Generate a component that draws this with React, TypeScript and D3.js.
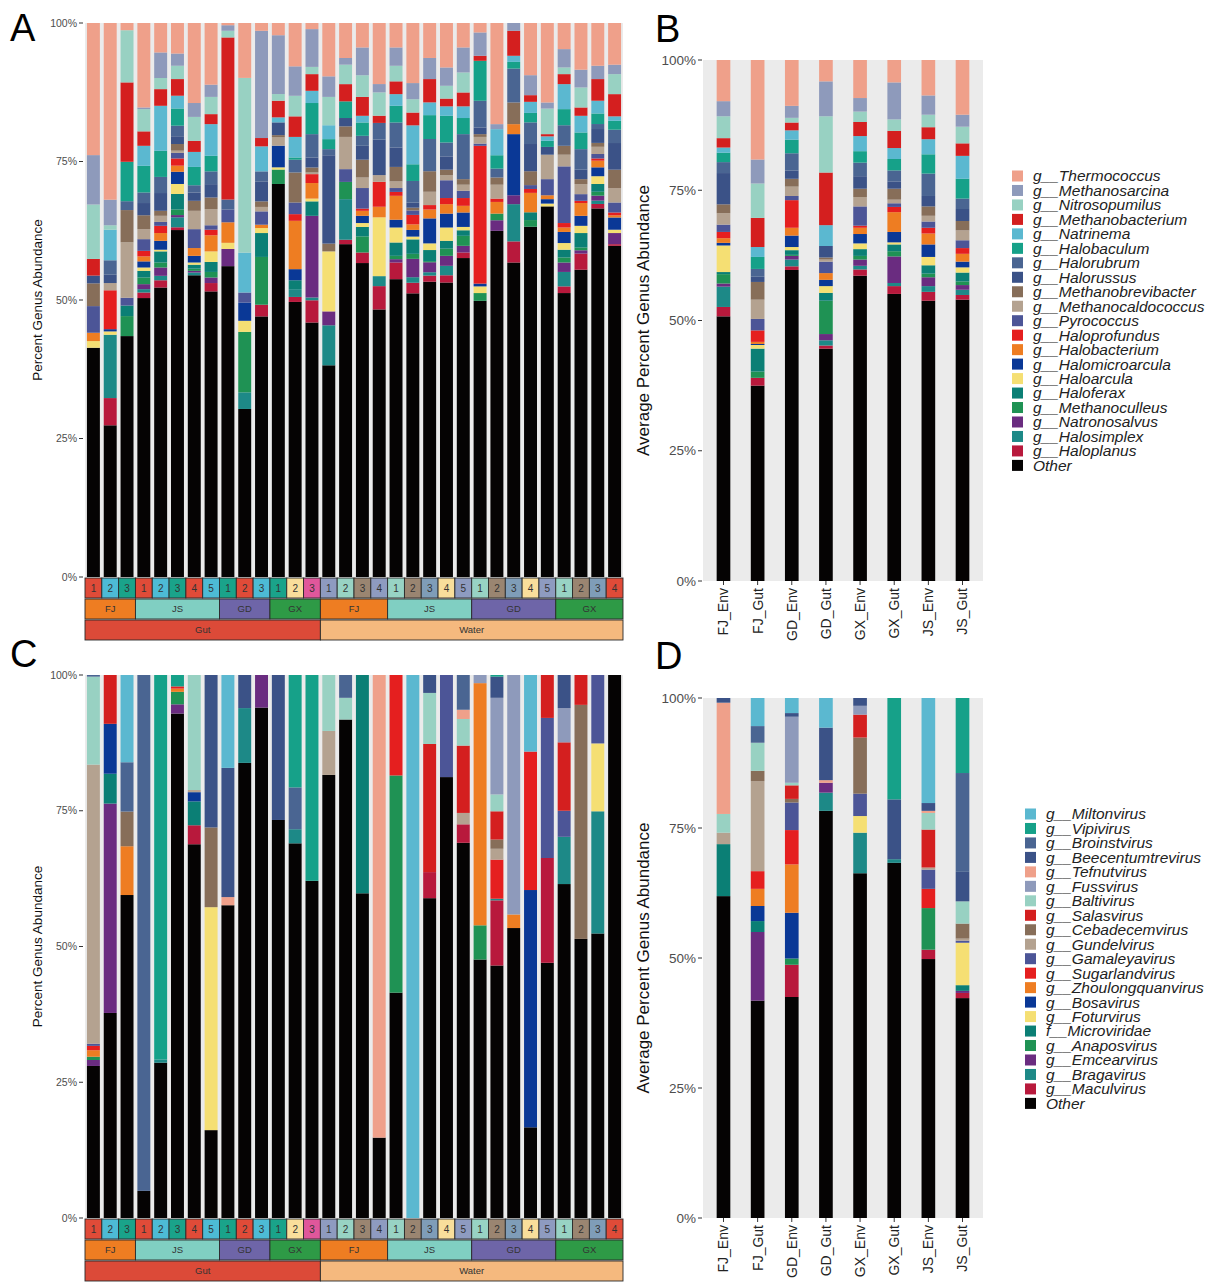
import * as d3 from 'd3';

const FONT = '"Liberation Sans", Arial, Helvetica, sans-serif';

// ---------- genera and colours ----------
const archaeaGenera = [
  'g__Thermococcus', 'g__Methanosarcina', 'g__Nitrosopumilus', 'g__Methanobacterium', 'g__Natrinema',
  'g__Halobaculum', 'g__Halorubrum', 'g__Halorussus', 'g__Methanobrevibacter', 'g__Methanocaldococcus',
  'g__Pyrococcus', 'g__Haloprofundus', 'g__Halobacterium', 'g__Halomicroarcula', 'g__Haloarcula',
  'g__Haloferax', 'g__Methanoculleus', 'g__Natronosalvus', 'g__Halosimplex', 'g__Haloplanus', 'Other',
];
const virusGenera = [
  'g__Miltonvirus', 'g__Vipivirus', 'g__Broinstvirus', 'g__Beecentumtrevirus', 'g__Tefnutvirus',
  'g__Fussvirus', 'g__Baltivirus', 'g__Salasvirus', 'g__Cebadecemvirus', 'g__Gundelvirus',
  'g__Gamaleyavirus', 'g__Sugarlandvirus', 'g__Zhoulongquanvirus', 'g__Bosavirus', 'g__Foturvirus',
  'f__Microviridae', 'g__Anaposvirus', 'g__Emcearvirus', 'g__Bragavirus', 'g__Maculvirus', 'Other',
];
const archaeaColors = [
  '#EFA08A', '#8E9ABB', '#98D1C2', '#D41F1F', '#5BB8D0', '#16A189', '#4A6592', '#3B5287', '#876E59',
  '#B4A290', '#4C5597', '#E51F1F', '#EE7D22', '#0A3896', '#F5DF73', '#0B7F75', '#1F9254', '#6A2C80',
  '#1D8987', '#B8193C', '#050303',
];
const virusColors = [
  '#5BB8D0', '#16A189', '#4A6592', '#3B5287', '#EFA08A', '#8E9ABB', '#98D1C2', '#D41F1F', '#876E59',
  '#B4A290', '#4C5597', '#E51F1F', '#EE7D22', '#0A3896', '#F5DF73', '#0B7F75', '#1F9254', '#6A2C80',
  '#1D8987', '#B8193C', '#050303',
];

// ---------- sample layout ----------
const sites = ['FJ', 'JS', 'GD', 'GX'];
const gutCounts = [3, 5, 3, 3];
const waterCounts = [4, 5, 5, 4];
const habitats = ['Gut', 'Water'];
const siteColors = ['#EE7D22', '#80CFC2', '#6E65A8', '#2E9A46'];
const habitatColors = ['#DC4A38', '#F5B97E'];
const sampleColors = [
  '#E04B38', '#4DBBD5', '#1AA38A',
  '#E04B38', '#4DBBD5', '#1AA38A', '#E04B38', '#4DBBD5',
  '#1AA38A', '#E04B38', '#4DBBD5',
  '#1AA38A', '#F9DE9B', '#E0579B',
  '#8E9BC0', '#98D3C4', '#9A8571', '#8E9BC0',
  '#98D3C4', '#9A8571', '#7F9DB8', '#F9DE9B', '#8E9BC0',
  '#98D3C4', '#9A8571', '#7F9DB8', '#F9DE9B', '#8E9BC0',
  '#98D3C4', '#9A8571', '#7F9DB8', '#E04B38',
];

// ---------- panel A: archaea per sample (legend order, % ) ----------
const archaeaGut = [
  [23.8, 8.9, 9.8, 3.0, 0, 0, 0, 1.4, 4.1, 0, 4.8, 0, 1.5, 0, 1.2, 0, 0, 0, 0, 0, 41.3],
  [31.8, 4.6, 0.8, 0, 5.5, 0, 2.6, 1.5, 0, 1.3, 0, 7.0, 0, 0.4, 0.6, 0, 0, 0, 11.4, 4.9, 27.3],
  [1.3, 0, 9.4, 14.3, 0, 7.1, 1.6, 0, 5.8, 10.0, 1.4, 0, 0, 0, 0, 1.9, 3.6, 0, 0, 0, 43.4],
  [15.2, 0.3, 4.0, 2.6, 3.6, 4.8, 1.9, 2.2, 2.5, 1.8, 2.1, 1.0, 0.9, 1.1, 0.6, 1.2, 1.2, 0.9, 0.6, 1.0, 50.2],
  [5.3, 4.6, 2.0, 3.0, 8.1, 4.7, 2.9, 3.2, 0.9, 1.1, 0.7, 1.3, 1.4, 1.6, 0.3, 2.0, 0.9, 1.5, 0.8, 1.3, 52.1],
  [5.5, 2.2, 2.4, 3.0, 2.3, 3.1, 1.9, 1.4, 1.2, 0.4, 1.0, 1.3, 1.1, 2.2, 1.8, 2.8, 1.0, 0.4, 1.8, 0.5, 62.5],
  [14.4, 2.5, 4.3, 2.0, 2.7, 3.3, 1.3, 1.5, 1.8, 3.3, 3.4, 0, 1.4, 1.2, 0.4, 0.7, 0.4, 0.3, 0.5, 0, 54.3],
  [11.1, 2.2, 3.1, 1.8, 5.7, 2.8, 2.3, 2.4, 2.1, 2.9, 0.8, 1.0, 2.9, 0, 1.9, 1.8, 1.0, 1.0, 0, 1.5, 51.4],
  [0.4, 1.0, 1.2, 29.2, 0, 0, 1.8, 0, 0, 0, 2.3, 0, 3.7, 0, 1.1, 0, 0, 3.1, 0, 0, 56.0],
  [9.9, 0, 31.5, 0, 7.2, 0, 0, 0, 0, 0, 1.8, 0, 0, 3.3, 2.0, 0, 10.9, 0, 3.0, 0, 30.3],
  [1.4, 19.3, 0, 1.5, 4.5, 0, 1.8, 3.6, 1.0, 0.8, 2.4, 0, 0.6, 0, 0.9, 4.3, 8.6, 0, 0, 2.1, 46.9],
  [2.2, 10.6, 1.2, 3.0, 0.9, 0, 0, 2.3, 0.4, 1.5, 0, 0, 0, 3.9, 0.4, 0, 2.6, 0, 0, 0, 70.8],
  [7.8, 5.3, 3.7, 3.7, 3.7, 0.4, 2.3, 0, 5.4, 0, 2.1, 1.2, 8.7, 2.0, 0, 1.6, 0, 0, 1.4, 0.9, 49.5],
  [1.1, 6.8, 1.3, 3.0, 2.2, 5.6, 4.2, 1.8, 0.9, 0.3, 0, 1.6, 2.8, 0, 0.5, 2.6, 0, 14.7, 0.5, 4.0, 45.8],
];
const archaeaWater = [
  [9.6, 3.7, 5.1, 0, 2.5, 1.8, 1.1, 15.9, 1.4, 0, 0, 0, 0, 0, 10.8, 0, 0, 2.5, 7.2, 0, 38.1],
  [6.3, 1.2, 3.5, 3.1, 0, 3.0, 0, 1.5, 1.9, 5.8, 2.3, 0, 0, 0, 0, 0, 3.1, 0, 7.3, 0.8, 59.9],
  [4.4, 5.0, 3.9, 3.4, 1.2, 2.4, 1.8, 2.5, 3.2, 1.9, 3.7, 0.4, 0.9, 1.3, 0.7, 1.7, 2.9, 0, 0, 1.9, 56.5],
  [11.0, 1.5, 4.2, 1.3, 0, 0, 3.0, 6.4, 0, 1.2, 0, 4.5, 1.9, 0, 10.6, 0, 0, 0, 1.8, 4.2, 48.2],
  [4.4, 3.3, 2.8, 2.3, 2.1, 3.0, 4.5, 3.5, 2.6, 1.2, 0.7, 0.7, 4.3, 1.4, 2.7, 2.4, 0.6, 0.6, 0, 3.0, 53.6],
  [10.8, 2.9, 2.4, 2.3, 7.0, 3.0, 3.9, 0.9, 0.5, 0, 0.8, 1.7, 1.0, 1.2, 0.5, 2.6, 0.9, 3.3, 1.0, 1.9, 51.0],
  [6.3, 3.8, 0, 4.2, 2.3, 4.3, 5.8, 0, 3.7, 2.4, 0, 0.8, 1.6, 4.5, 1.2, 2.0, 0.2, 1.8, 0.6, 1.1, 53.2],
  [8.0, 3.3, 2.3, 1.4, 1.7, 4.8, 2.5, 2.4, 1.0, 0.9, 3.2, 1.1, 1.7, 2.5, 2.4, 1.4, 1.3, 1.8, 1.7, 1.3, 53.0],
  [4.4, 4.5, 3.6, 2.5, 2.1, 2.9, 8.1, 0, 1.0, 1.1, 1.3, 1.4, 1.2, 2.6, 0.6, 1.0, 1.8, 1.2, 0, 1.0, 57.4],
  [1.7, 4.2, 0, 0.9, 0, 7.2, 4.8, 1.2, 0.5, 1.2, 0.4, 24.8, 0, 0.5, 1.2, 0, 1.4, 0, 0, 0, 49.7],
  [18.2, 0.9, 0, 0, 4.7, 2.4, 1.6, 0, 1.3, 2.5, 0, 0.6, 2.1, 0, 0, 0, 1.2, 1.9, 0, 0, 62.3],
  [0, 1.4, 0, 4.5, 1.1, 1.2, 6.1, 0, 3.9, 0, 0, 0, 1.8, 11.0, 0, 0, 0, 1.6, 6.7, 3.8, 56.6],
  [9.4, 3.6, 0, 1.2, 2.0, 1.7, 3.9, 4.9, 2.5, 0, 0.7, 0.7, 3.5, 0, 0, 1.4, 1.2, 0, 0, 0, 63.1],
  [14.3, 1.1, 4.6, 0.4, 0.8, 1.1, 0, 1.4, 0, 4.4, 2.9, 0, 0.7, 0.8, 0.5, 0, 0, 0, 0, 0, 66.7],
  [4.7, 3.3, 1.2, 1.8, 4.5, 2.9, 3.7, 0, 1.6, 2.1, 10.2, 0.8, 0.8, 2.0, 1.2, 1.4, 0.9, 1.7, 2.6, 1.2, 51.1],
  [8.4, 3.2, 3.6, 1.5, 3.0, 3.0, 3.7, 1.7, 0.9, 1.8, 1.2, 0.4, 2.3, 1.8, 1.3, 2.6, 0.5, 0.6, 0, 2.9, 55.3],
  [7.7, 2.4, 0, 3.9, 2.3, 1.9, 0.9, 2.5, 0.7, 1.3, 0.8, 0.4, 1.2, 1.6, 1.4, 1.4, 0.7, 0.9, 0.6, 0.8, 66.4],
  [7.5, 1.7, 3.6, 4.0, 0.8, 1.6, 2.4, 4.8, 3.3, 2.6, 1.8, 0.5, 0.4, 2.2, 0.6, 0, 0, 2.0, 0, 0.3, 59.6],
];

// ---------- panel C: viruses per sample ----------
const virusGut = [
  [0, 0, 0.3, 0, 0, 0, 16.2, 0, 0, 51.4, 0.4, 0.8, 1.2, 0, 0, 0, 0.6, 1.1, 0, 0, 28.0],
  [0, 0, 0, 0, 0, 0, 0, 9.0, 0, 0, 0, 0, 0, 9.2, 0, 5.5, 0, 38.6, 0, 0, 37.8],
  [16.1, 0, 9.1, 0, 0, 0, 0, 0, 6.4, 0, 0, 0, 9.0, 0, 0, 0, 0, 0, 0, 0, 59.6],
  [0, 0, 95.0, 0, 0, 0, 0, 0, 0, 0, 0, 0, 0, 0, 0, 0, 0, 0, 0, 0, 5.0],
  [0, 70.8, 0, 0, 0, 0, 0, 0, 0, 0, 0, 0, 0, 0, 0, 0, 0, 0, 0.6, 0, 28.6],
  [0, 2.1, 0, 0, 0, 0, 0, 0, 0, 0, 0, 0.4, 0.6, 0, 0, 0, 2.3, 1.7, 0, 0, 92.9],
  [0, 0, 0, 0, 0, 0, 21.2, 0, 0, 0.4, 0, 0, 0, 1.7, 0, 4.4, 0, 0, 0, 3.5, 68.9],
  [0, 0, 0, 28.1, 0, 0, 0, 0, 14.7, 0, 0, 0, 0, 0, 41.1, 0, 0, 0, 0, 0, 16.2],
  [17.1, 0, 0, 23.8, 1.5, 0, 0, 0, 0, 0, 0, 0, 0, 0, 0, 0, 0, 0, 0, 0, 57.6],
  [0, 0, 0, 6.1, 0, 0, 0, 0, 0, 0, 0, 0, 0, 0, 0, 0, 0, 0, 10.1, 0, 83.9],
  [0, 0, 0, 0, 0, 0, 0, 0, 0, 0, 0, 0, 0, 0, 0, 0, 0, 6.0, 0, 0, 94.0],
  [0, 0, 0, 26.7, 0, 0, 0, 0, 0, 0, 0, 0, 0, 0, 0, 0, 0, 0, 0, 0, 73.3],
  [0, 20.7, 7.7, 0, 0, 0, 0, 0, 0, 0, 0, 0, 0, 0, 0, 0, 0, 0, 2.6, 0, 69.0],
  [0, 37.9, 0, 0, 0, 0, 0, 0, 0, 0, 0, 0, 0, 0, 0, 0, 0, 0, 0, 0, 62.1],
];
const virusWater = [
  [0, 0, 0, 0, 0, 0, 10.3, 0, 0, 8.1, 0, 0, 0, 0, 0, 0, 0, 0, 0, 0, 81.6],
  [0, 0, 4.2, 0, 0, 0, 4.0, 0, 0, 0, 0, 0, 0, 0, 0, 0, 0, 0, 0, 0, 91.8],
  [0, 0, 0, 0, 0, 0, 0, 0, 0, 0, 0, 0, 0, 0, 0, 40.2, 0, 0, 0, 0, 59.8],
  [0, 0, 0, 0, 85.2, 0, 0, 0, 0, 0, 0, 0, 0, 0, 0, 0, 0, 0, 0, 0, 14.8],
  [0, 0, 0, 0, 0, 0, 0, 0, 0, 0, 0, 18.5, 0, 0, 0, 0, 40.0, 0, 0, 0, 41.5],
  [100, 0, 0, 0, 0, 0, 0, 0, 0, 0, 0, 0, 0, 0, 0, 0, 0, 0, 0, 0, 0],
  [0, 0, 0, 3.3, 0, 0, 9.4, 23.6, 0, 0, 0, 0, 0, 0, 0, 0, 0, 0, 0, 4.8, 58.9],
  [0, 0, 0, 0, 0, 0, 0, 0, 0, 0, 18.8, 0, 0, 0, 0, 0, 0, 0, 0, 0, 81.2],
  [0, 0, 6.4, 0, 1.7, 0, 4.9, 12.4, 0, 2.1, 0, 0, 0, 0, 0, 0, 0, 0, 0, 3.4, 69.1],
  [0, 0, 0, 0, 0, 1.5, 0, 0, 0, 0, 0, 0, 44.6, 0, 0, 0, 6.3, 0, 0, 0, 47.6],
  [0, 0.3, 0, 3.9, 0, 17.8, 3.1, 5.2, 1.7, 2.0, 0, 7.2, 0, 0, 0, 0, 0, 0, 0.3, 12.0, 46.5],
  [0, 0, 0, 0, 0, 44.1, 0, 0, 0, 0, 0, 0, 2.5, 0, 0, 0, 0, 0, 0, 0, 53.4],
  [14.1, 0, 0, 0, 0, 0, 0, 0, 0, 0, 0, 25.5, 0, 43.7, 0, 0, 0, 0, 0, 0, 16.7],
  [0, 0, 0, 0, 0, 0, 0, 7.9, 0, 0, 25.8, 0, 0, 0, 0, 0, 0, 0, 0, 19.3, 47.0],
  [0, 0, 0, 6.1, 0, 6.3, 0, 12.6, 0, 0, 4.8, 0, 0, 0, 0, 0, 0, 0, 8.7, 0, 61.5],
  [0, 0, 0, 0, 0, 0, 0, 5.5, 43.1, 0, 0, 0, 0, 0, 0, 0, 0, 0, 0, 0, 51.4],
  [0, 0, 0, 0, 0, 0, 0, 0, 0, 0, 12.6, 0, 0, 0, 12.5, 0, 0, 0, 22.5, 0, 52.4],
  [0, 0, 0, 0, 0, 0, 0, 0, 0, 0, 0, 0, 0, 0, 0, 0, 0, 0, 0, 0, 100],
];

// ---------- panels B and D: group averages ----------
const groupNames = ['FJ_Env', 'FJ_Gut', 'GD_Env', 'GD_Gut', 'GX_Env', 'GX_Gut', 'JS_Env', 'JS_Gut'];
const archaeaAverage = [
  [7.9, 2.9, 4.2, 1.8, 1.0, 1.8, 2.1, 6.0, 1.7, 2.2, 1.4, 1.2, 0.9, 0.5, 5.1, 0.4, 1.8, 0.6, 3.9, 1.8, 50.8],
  [19.1, 4.6, 6.6, 5.6, 1.9, 2.3, 1.5, 1.0, 3.4, 3.7, 2.2, 2.2, 0.4, 0.2, 0.7, 4.4, 1.2, 0, 0, 1.5, 37.5],
  [8.8, 2.3, 0.9, 1.5, 1.8, 2.6, 3.3, 1.6, 1.5, 1.8, 0.8, 5.3, 1.5, 2.2, 0.6, 0.9, 0.2, 0.7, 1.3, 0.7, 59.7],
  [4.1, 6.7, 10.8, 10.1, 4.0, 0, 0, 2.2, 0.4, 0.4, 2.2, 0, 1.3, 1.2, 1.3, 1.5, 6.4, 1.2, 1.0, 0.6, 44.6],
  [7.3, 2.6, 2.0, 2.7, 2.9, 2.2, 2.6, 2.4, 1.6, 1.8, 3.7, 0.4, 1.2, 1.8, 1.1, 1.3, 0.7, 1.2, 0.7, 1.2, 58.6],
  [4.3, 7.1, 2.2, 3.3, 2.1, 2.2, 2.1, 1.4, 2.1, 0.7, 0.7, 1.0, 3.8, 2.0, 0.4, 1.3, 1.0, 5.1, 0.6, 1.5, 55.1],
  [6.8, 3.7, 2.4, 2.3, 2.9, 3.7, 4.3, 2.0, 1.8, 1.1, 1.2, 1.1, 2.1, 2.4, 1.6, 1.6, 0.7, 1.7, 1.1, 1.7, 53.8],
  [10.5, 2.3, 3.2, 2.4, 4.4, 3.8, 2.0, 2.3, 1.8, 1.9, 1.5, 1.1, 1.5, 1.1, 1.0, 1.7, 0.7, 0.9, 1.0, 0.9, 54.0],
];
const virusAverage = [
  [0, 0, 0, 0.9, 21.4, 0, 3.6, 0, 0, 2.2, 0, 0, 0, 0, 0, 10.0, 0, 0, 0, 0, 61.9],
  [5.4, 0, 3.2, 0, 0, 0, 5.4, 0, 2.0, 17.3, 0, 3.4, 3.3, 2.9, 0, 2.1, 0, 13.2, 0, 0, 41.8],
  [2.9, 0, 0, 0.7, 0, 12.7, 0.5, 2.6, 0.7, 0, 5.3, 6.6, 9.3, 8.8, 0, 0, 1.2, 0, 0, 6.2, 42.5],
  [5.7, 0, 0, 10.1, 0.5, 0, 0, 0, 0, 0, 0, 0, 0, 0, 0, 0, 0, 1.9, 3.5, 0, 78.3],
  [0, 0, 0, 1.5, 0, 1.7, 0, 4.4, 10.8, 0, 4.3, 0, 0, 0, 3.2, 0, 0, 0, 7.8, 0, 66.3],
  [0, 19.5, 0, 11.5, 0, 0, 0, 0, 0, 0, 0, 0, 0, 0, 0, 0, 0, 0, 0.7, 0, 68.3],
  [20.2, 0, 0, 1.5, 0.4, 0, 3.2, 7.3, 0, 0.4, 3.7, 3.7, 0, 0, 0, 0, 8.0, 0, 0, 1.8, 49.8],
  [0, 14.5, 19.1, 5.7, 0, 0, 4.3, 0, 2.9, 0.4, 0.4, 0, 0, 0, 8.2, 1.1, 0, 0.4, 0, 1.0, 42.5],
];

// ---------- helpers ----------
type Rec = { [k: string]: number };

function toPercentRows(rows: number[][], genera: string[], ids: string[]): Rec[] {
  return rows.map((r, i) => {
    const total = d3.sum(r);
    const o: any = { id: ids[i] };
    genera.forEach((g, j) => { o[g] = ((r[j] || 0) / total) * 100; });
    return o;
  });
}

function Stacks({ rows, genera, colors, x, y }: any) {
  const keys = genera.slice().reverse(); // "Other" at the bottom
  const series = d3.stack<any>().keys(keys)(rows);
  return (
    <g>
      {series.map((s) => {
        const color = colors[genera.indexOf(s.key)];
        return s.map((d: any, i: number) =>
          d[1] - d[0] > 0 ? (
            <rect key={s.key + i} x={x(d.data.id)} width={x.bandwidth()}
              y={y(d[1])} height={Math.max(0, y(d[0]) - y(d[1]))} fill={color} />
          ) : null);
      })}
    </g>
  );
}

function YAxis({ y, x, fontSize, tickLen }: any) {
  return (
    <g>
      {[0, 25, 50, 75, 100].map((v) => (
        <g key={v}>
          <line x1={x - tickLen} x2={x} y1={y(v)} y2={y(v)} stroke="#333" strokeWidth={1} />
          <text x={x - tickLen - 2} y={y(v)} dy="0.35em" textAnchor="end" fontSize={fontSize}
            fill="#4d4d4d" fontFamily={FONT}>{v}%</text>
        </g>
      ))}
    </g>
  );
}

function SamplePanel({ top, bottom, data, genera, colors, letter, letterY }: any) {
  const left = 85;
  const right = 623;
  const ids = data.map((_: any, i: number) => `s${i}`);
  const rows = toPercentRows(data, genera, ids);
  const x = d3.scaleBand().domain(ids).range([left, right]).paddingInner(0.23).paddingOuter(0.115);
  const y = d3.scaleLinear().domain([0, 100]).range([bottom, top]);
  const step = x.step();

  const counts = [...gutCounts, ...waterCounts];
  const labels: number[] = counts.flatMap((c) => d3.range(1, c + 1));
  const siteBoxes: { site: number; start: number; n: number }[] = [];
  let pos = 0;
  counts.forEach((c, i) => { siteBoxes.push({ site: i % 4, start: pos, n: c }); pos += c; });
  const habitatBoxes = [
    { h: 0, start: 0, n: d3.sum(gutCounts) },
    { h: 1, start: d3.sum(gutCounts), n: d3.sum(waterCounts) },
  ];
  const r1 = bottom + 1;
  const r2 = bottom + 22;
  const r3 = bottom + 43;
  const rh = 20;

  return (
    <g>
      <text x={10} y={letterY} fontSize={38} fontFamily={FONT} fill="#000">{letter}</text>
      <rect x={left} y={top} width={right - left} height={bottom - top} fill="#EBEBEB" />
      <Stacks rows={rows} genera={genera} colors={colors} x={x} y={y} />
      <YAxis y={y} x={left - 2} fontSize={10.5} tickLen={4} />
      <text transform={`translate(38,${(top + bottom) / 2}) rotate(-90)`} textAnchor="middle"
        dominantBaseline="middle" fontSize={13.5} fontFamily={FONT} fill="#111">Percent Genus Abundance</text>
      {labels.map((n, i) => (
        <g key={'n' + i}>
          <rect x={left + i * step} y={r1} width={step} height={rh} fill={sampleColors[i]}
            stroke="#2a2a2a" strokeWidth={0.9} />
          <text x={left + (i + 0.5) * step} y={r1 + rh / 2} dy="0.35em" textAnchor="middle"
            fontSize={10} fontFamily={FONT} fill="#333">{n}</text>
        </g>
      ))}
      {siteBoxes.map((b, i) => (
        <g key={'s' + i}>
          <rect x={left + b.start * step} y={r2} width={b.n * step} height={rh} fill={siteColors[b.site]}
            stroke="#2a2a2a" strokeWidth={0.9} />
          <text x={left + (b.start + b.n / 2) * step} y={r2 + rh / 2} dy="0.35em" textAnchor="middle"
            fontSize={9.5} fontFamily={FONT} fill="#333">{sites[b.site]}</text>
        </g>
      ))}
      {habitatBoxes.map((b, i) => (
        <g key={'h' + i}>
          <rect x={left + b.start * step} y={r3} width={b.n * step} height={rh} fill={habitatColors[b.h]}
            stroke="#2a2a2a" strokeWidth={0.9} />
          <text x={left + (b.start + b.n / 2) * step} y={r3 + rh / 2} dy="0.35em" textAnchor="middle"
            fontSize={9.5} fontFamily={FONT} fill="#333">{habitats[b.h]}</text>
        </g>
      ))}
    </g>
  );
}

function AveragePanel({ top, bottom, data, genera, colors, letter, letterY, legendX, legendY }: any) {
  const left = 703;
  const right = 983;
  const rows = toPercentRows(data, genera, groupNames);
  const x = d3.scaleBand().domain(groupNames).range([left, right]).paddingInner(0.6).paddingOuter(0.4);
  const y = d3.scaleLinear().domain([0, 100]).range([bottom, top]);
  const rowH = 14.47;
  return (
    <g>
      <text x={655} y={letterY} fontSize={38} fontFamily={FONT} fill="#000">{letter}</text>
      <rect x={left} y={top} width={right - left} height={bottom - top} fill="#EBEBEB" />
      <Stacks rows={rows} genera={genera} colors={colors} x={x} y={y} />
      <YAxis y={y} x={left - 1} fontSize={13.5} tickLen={4} />
      <text transform={`translate(645,${(top + bottom) / 2}) rotate(-90)`} textAnchor="middle"
        dominantBaseline="middle" fontSize={17} fontFamily={FONT} fill="#111">Average Percent Genus Abundance</text>
      {groupNames.map((g) => {
        const cx = (x(g) as number) + x.bandwidth() / 2;
        return (
          <g key={g}>
            <line x1={cx} x2={cx} y1={bottom} y2={bottom + 4} stroke="#333" />
            <text transform={`translate(${cx},${bottom + 7}) rotate(-90)`} textAnchor="end" dy="0.35em"
              fontSize={14} fontFamily={FONT} fill="#222">{g}</text>
          </g>
        );
      })}
      {genera.map((g: string, i: number) => (
        <g key={g} transform={`translate(${legendX},${legendY + i * rowH})`}>
          <rect x={0} y={-5.5} width={11} height={11} fill={colors[i]} />
          <text x={21} y={0} dy="0.35em" fontSize={15.5} fontStyle="italic" fontFamily={FONT}
            fill="#222">{g}</text>
        </g>
      ))}
    </g>
  );
}

export default function App() {
  return (
    <svg width={1221} height={1282} style={{ position: 'absolute', left: 0, top: 0, background: '#fff' }}>
      <SamplePanel top={23} bottom={577} data={[...archaeaGut, ...archaeaWater]} genera={archaeaGenera}
        colors={archaeaColors} letter="A" letterY={41} />
      <AveragePanel top={60} bottom={581} data={archaeaAverage} genera={archaeaGenera} colors={archaeaColors}
        letter="B" letterY={42} legendX={1012} legendY={176} />
      <SamplePanel top={675} bottom={1218} data={[...virusGut, ...virusWater]} genera={virusGenera}
        colors={virusColors} letter="C" letterY={667} />
      <AveragePanel top={698} bottom={1218} data={virusAverage} genera={virusGenera} colors={virusColors}
        letter="D" letterY={669} legendX={1025} legendY={814} />
    </svg>
  );
}
